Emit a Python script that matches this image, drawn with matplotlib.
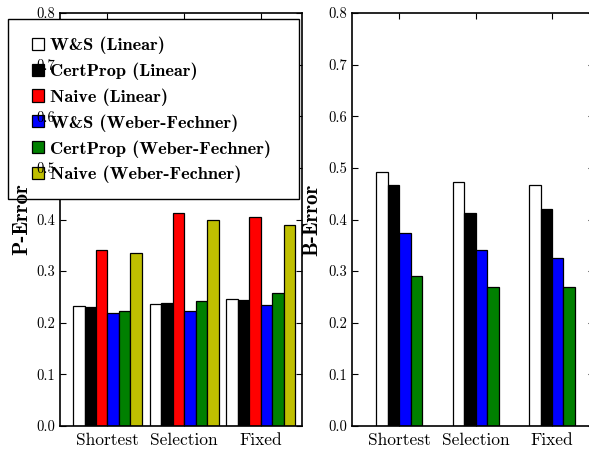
import numpy as np
import matplotlib
matplotlib.use("Agg")
import matplotlib.pyplot as plt
from matplotlib.patches import Rectangle

plt.rcParams["font.family"] = "cmr10"
plt.rcParams["axes.formatter.use_mathtext"] = True
plt.rcParams["mathtext.fontset"] = "cm"

groups = ["Shortest", "Selection", "Fixed"]

# P-Error (left panel)
p_labels = ["W&S (Linear)", "CertProp (Linear)", "Naive (Linear)",
            "W&S (Weber-Fechner)", "CertProp (Weber-Fechner)", "Naive (Weber-Fechner)"]
p_ws_lin = [0.233, 0.237, 0.246]
p_cp_lin = [0.231, 0.238, 0.245]
p_naive_lin = [0.341, 0.412, 0.405]
p_ws_wf = [0.219, 0.223, 0.235]
p_cp_wf = [0.222, 0.242, 0.258]
p_naive_wf = [0.336, 0.399, 0.390]

# B-Error (right panel)
b_ws_lin = [0.492, 0.472, 0.467]
b_cp_lin = [0.467, 0.413, 0.420]
b_ws_wf = [0.373, 0.341, 0.326]
b_cp_wf = [0.291, 0.269, 0.270]

yticks = [0.0, 0.1, 0.2, 0.3, 0.4, 0.5, 0.6, 0.7, 0.8]

COLORS = ["white", "black", "#ff0000", "#0000ff", "#008000", "#bfbf00"]
W = 0.15
FW, FH = 589, 449

fig = plt.figure(figsize=(FW / 100, FH / 100), dpi=100)
pos1 = [60 / FW, 23 / FH, 242 / FW, 413 / FH]
ax1 = fig.add_axes(pos1)
ax2 = fig.add_axes([352 / FW, 23 / FH, 242 / FW, 413 / FH])

ind = np.arange(len(groups))


def yaxis_text(ax, ylabel, label_x):
    ax.set_ylim(0, 0.8)
    ax.set_yticks(yticks)
    ax.set_yticklabels([f"{v:.1f}" for v in yticks], fontsize=10.5)
    ax.set_ylabel(ylabel, family="cmb10", fontsize=15)
    ax.yaxis.set_label_coords(label_x, 0.5)


def style(ax, nbars, xlim):
    ax.set_ylim(0, 0.8)
    ax.set_xlim(*xlim)
    ax.set_yticks(yticks)
    ax.set_xticks(ind + nbars * W / 2)
    ax.set_xticklabels(groups, fontsize=12.5)
    ax.tick_params(direction="in", top=True, right=True, length=4, width=0.8)
    ax.tick_params(axis="x", pad=5)
    for s in ax.spines.values():
        s.set_linewidth(1.2)


p_series = [p_ws_lin, p_cp_lin, p_naive_lin, p_ws_wf, p_cp_wf, p_naive_wf]
handles = []
for i, vals in enumerate(p_series):
    h = ax1.bar(ind + i * W, vals, W, align="edge", color=COLORS[i],
                edgecolor="black", linewidth=0.9, label=p_labels[i])
    handles.append(h)

b_series = [b_ws_lin, b_cp_lin, b_ws_wf, b_cp_wf]
b_colors = [COLORS[0], COLORS[1], COLORS[3], COLORS[4]]
for i, vals in enumerate(b_series):
    ax2.bar(ind + i * W, vals, W, align="edge", color=b_colors[i],
            edgecolor="black", linewidth=0.9)

style(ax1, 6, (-0.17, 2.99))
style(ax2, 4, (-0.32, 2.85))
yaxis_text(ax2, "B-Error", -0.128)

# the left y tick labels and y label sit on top of the legend in the
# original, so they go on a transparent overlay axes drawn last
ax1.tick_params(axis="y", labelleft=False)
ov = fig.add_axes(pos1, zorder=6, frameon=False)
yaxis_text(ov, "P-Error", -0.12)
ov.set_xticks([])
ov.tick_params(axis="y", length=0, pad=3.5)
ov.patch.set_visible(False)

# legend box drawn by hand (wider side padding than top/bottom)
frame = Rectangle((8 / FW, 1 - 199 / FH), 291 / FW, 180 / FH,
                  transform=fig.transFigure, facecolor="white",
                  edgecolor="black", linewidth=1.0, zorder=4)
fig.patches.append(frame)

leg = fig.legend(handles=handles, labels=p_labels, loc="upper left",
                 bbox_to_anchor=(32 / FW, 1 - 37 / FH),
                 prop={"family": "cmb10", "size": 13.2},
                 frameon=False, borderaxespad=0, borderpad=0,
                 handlelength=0.65, handleheight=0.65, handletextpad=0.33,
                 labelspacing=0.45)
leg.set_zorder(5)

fig.savefig("out.png", dpi=100)
